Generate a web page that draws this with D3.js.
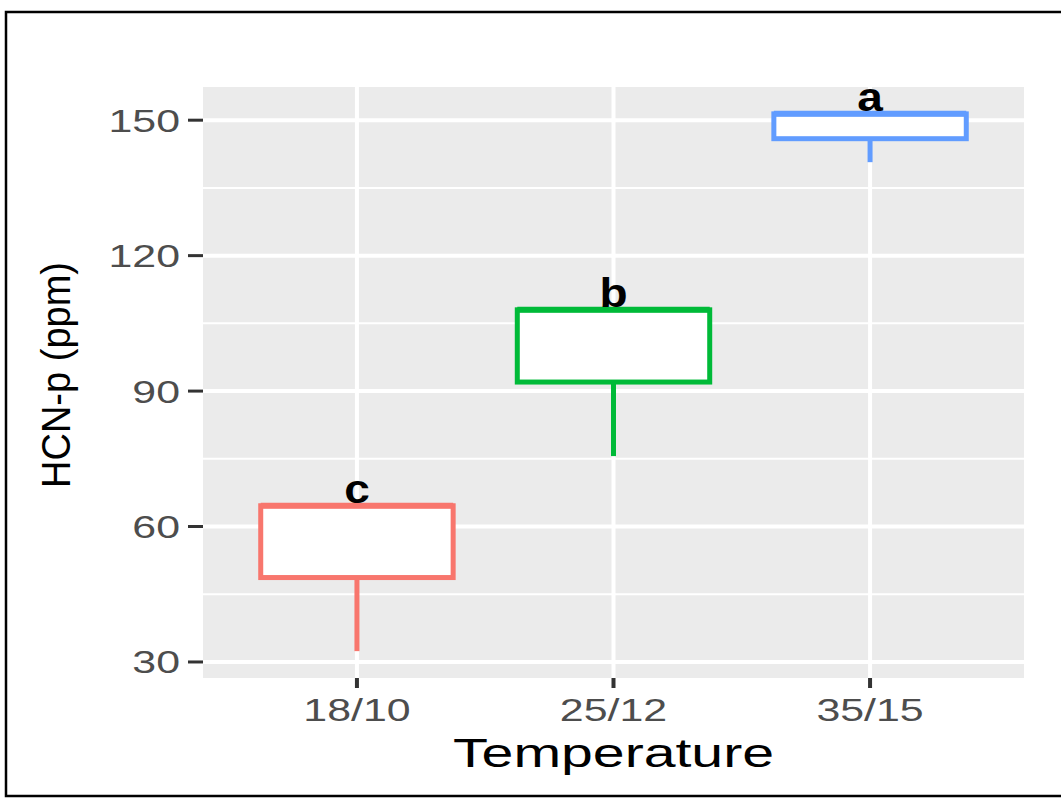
<!DOCTYPE html>
<html>
<head>
<meta charset="utf-8">
<script src="https://cdn.jsdelivr.net/npm/d3@7"></script>
<style>
  html, body { margin: 0; padding: 0; background: #fff; }
  svg { display: block; }
  text { font-family: "Liberation Sans", Arial, sans-serif; }
</style>
</head>
<body>
<svg id="chart" width="1061" height="798"></svg>
<script>
// HCN-p content by temperature regime (box summaries)
const categories = ["18/10", "25/12", "35/15"];
const lowerQ     = [48.7, 92.0, 145.9];
const upperQ     = [64.6, 108.0, 151.4];
const medians    = [64.6, 108.0, 151.4];
const whiskerLo  = [32.4, 75.6, 140.7];
const whiskerHi  = [64.6, 108.0, 151.4];
const groupLetters = ["c", "b", "a"];
const boxColors  = ["#F8766D", "#00BA38", "#619CFF"];
const yTicks     = [30, 60, 90, 120, 150];
const yMinorTicks = [45, 75, 105, 135];
const xTitle = "Temperature";
const yTitle = "HCN-p (ppm)";

const svg = d3.select("#chart");

// outer frame
svg.append("rect")
  .attr("x", 6).attr("y", 12)
  .attr("width", 1070).attr("height", 784)
  .attr("fill", "none").attr("stroke", "#000").attr("stroke-width", 2.5);

const panel = { left: 203, right: 1024, top: 87, bottom: 678 };

// y scale with 5% expansion around the data range
const dataMin = d3.min(whiskerLo), dataMax = d3.max(whiskerHi);
const pad = 0.05 * (dataMax - dataMin);
const y = d3.scaleLinear()
  .domain([dataMin - pad, dataMax + pad])
  .range([panel.bottom, panel.top]);

const x = d3.scalePoint()
  .domain(categories)
  .range([panel.left, panel.right])
  .padding(0.6);
const boxW = x.step() * 0.75;

// panel background
svg.append("rect")
  .attr("x", panel.left).attr("y", panel.top)
  .attr("width", panel.right - panel.left)
  .attr("height", panel.bottom - panel.top)
  .attr("fill", "#EBEBEB");

// grid lines
svg.append("g").selectAll("line").data(yMinorTicks).join("line")
  .attr("x1", panel.left).attr("x2", panel.right)
  .attr("y1", d => y(d)).attr("y2", d => y(d))
  .attr("stroke", "#fff").attr("stroke-width", 2);
svg.append("g").selectAll("line").data(yTicks).join("line")
  .attr("x1", panel.left).attr("x2", panel.right)
  .attr("y1", d => y(d)).attr("y2", d => y(d))
  .attr("stroke", "#fff").attr("stroke-width", 4);
svg.append("g").selectAll("line").data(categories).join("line")
  .attr("x1", d => x(d)).attr("x2", d => x(d))
  .attr("y1", panel.top).attr("y2", panel.bottom)
  .attr("stroke", "#fff").attr("stroke-width", 4);

// boxplots
const boxes = categories.map((c, i) => ({
  cat: c, lo: lowerQ[i], hi: upperQ[i], med: medians[i],
  wlo: whiskerLo[i], whi: whiskerHi[i], color: boxColors[i], letter: groupLetters[i]
}));

const bg = svg.append("g").selectAll("g").data(boxes).join("g");
bg.append("line")
  .attr("x1", d => x(d.cat)).attr("x2", d => x(d.cat))
  .attr("y1", d => y(d.lo)).attr("y2", d => y(d.wlo))
  .attr("stroke", d => d.color).attr("stroke-width", 5);
bg.append("line")
  .attr("x1", d => x(d.cat)).attr("x2", d => x(d.cat))
  .attr("y1", d => y(d.hi)).attr("y2", d => y(d.whi))
  .attr("stroke", d => d.color).attr("stroke-width", 5);
bg.append("rect")
  .attr("x", d => x(d.cat) - boxW / 2)
  .attr("y", d => y(d.hi))
  .attr("width", boxW)
  .attr("height", d => y(d.lo) - y(d.hi))
  .attr("fill", "#fff")
  .attr("stroke", d => d.color).attr("stroke-width", 5);
bg.append("line")
  .attr("x1", d => x(d.cat) - boxW / 2).attr("x2", d => x(d.cat) + boxW / 2)
  .attr("y1", d => y(d.med)).attr("y2", d => y(d.med))
  .attr("stroke", d => d.color).attr("stroke-width", 6);

// group letters above boxes
bg.append("g")
  .attr("transform", d => `translate(${x(d.cat)},${y(d.hi) - 2.5}) scale(1.15,1)`)
  .append("text")
  .attr("text-anchor", "middle")
  .attr("font-size", 40).attr("font-weight", "bold")
  .attr("fill", "#000")
  .text(d => d.letter);

// y axis ticks and labels
const ya = svg.append("g");
ya.selectAll("line").data(yTicks).join("line")
  .attr("x1", panel.left - 15).attr("x2", panel.left)
  .attr("y1", d => y(d)).attr("y2", d => y(d))
  .attr("stroke", "#333").attr("stroke-width", 3);
ya.selectAll("g").data(yTicks).join("g")
  .attr("transform", d => `translate(${panel.left - 23},${y(d) + 11.5}) scale(1.34,1)`)
  .append("text")
  .attr("text-anchor", "end")
  .attr("font-size", 32).attr("fill", "#4D4D4D")
  .text(d => d);

// x axis ticks and labels
const xa = svg.append("g");
xa.selectAll("line").data(categories).join("line")
  .attr("x1", d => x(d)).attr("x2", d => x(d))
  .attr("y1", panel.bottom).attr("y2", panel.bottom + 10)
  .attr("stroke", "#333").attr("stroke-width", 4);
xa.selectAll("g").data(categories).join("g")
  .attr("transform", d => `translate(${x(d)},721) scale(1.34,1)`)
  .append("text")
  .attr("text-anchor", "middle")
  .attr("font-size", 32).attr("fill", "#4D4D4D")
  .text(d => d);

// axis titles
svg.append("g")
  .attr("transform", `translate(${(panel.left + panel.right) / 2},767) scale(1.43,1)`)
  .append("text")
  .attr("text-anchor", "middle")
  .attr("font-size", 40).attr("fill", "#000")
  .text(xTitle);

svg.append("g")
  .attr("transform", `translate(70,375) rotate(-90)`)
  .append("text")
  .attr("text-anchor", "middle")
  .attr("font-size", 40).attr("fill", "#000")
  .attr("textLength", 226).attr("lengthAdjust", "spacingAndGlyphs")
  .text(yTitle);
</script>
</body>
</html>
